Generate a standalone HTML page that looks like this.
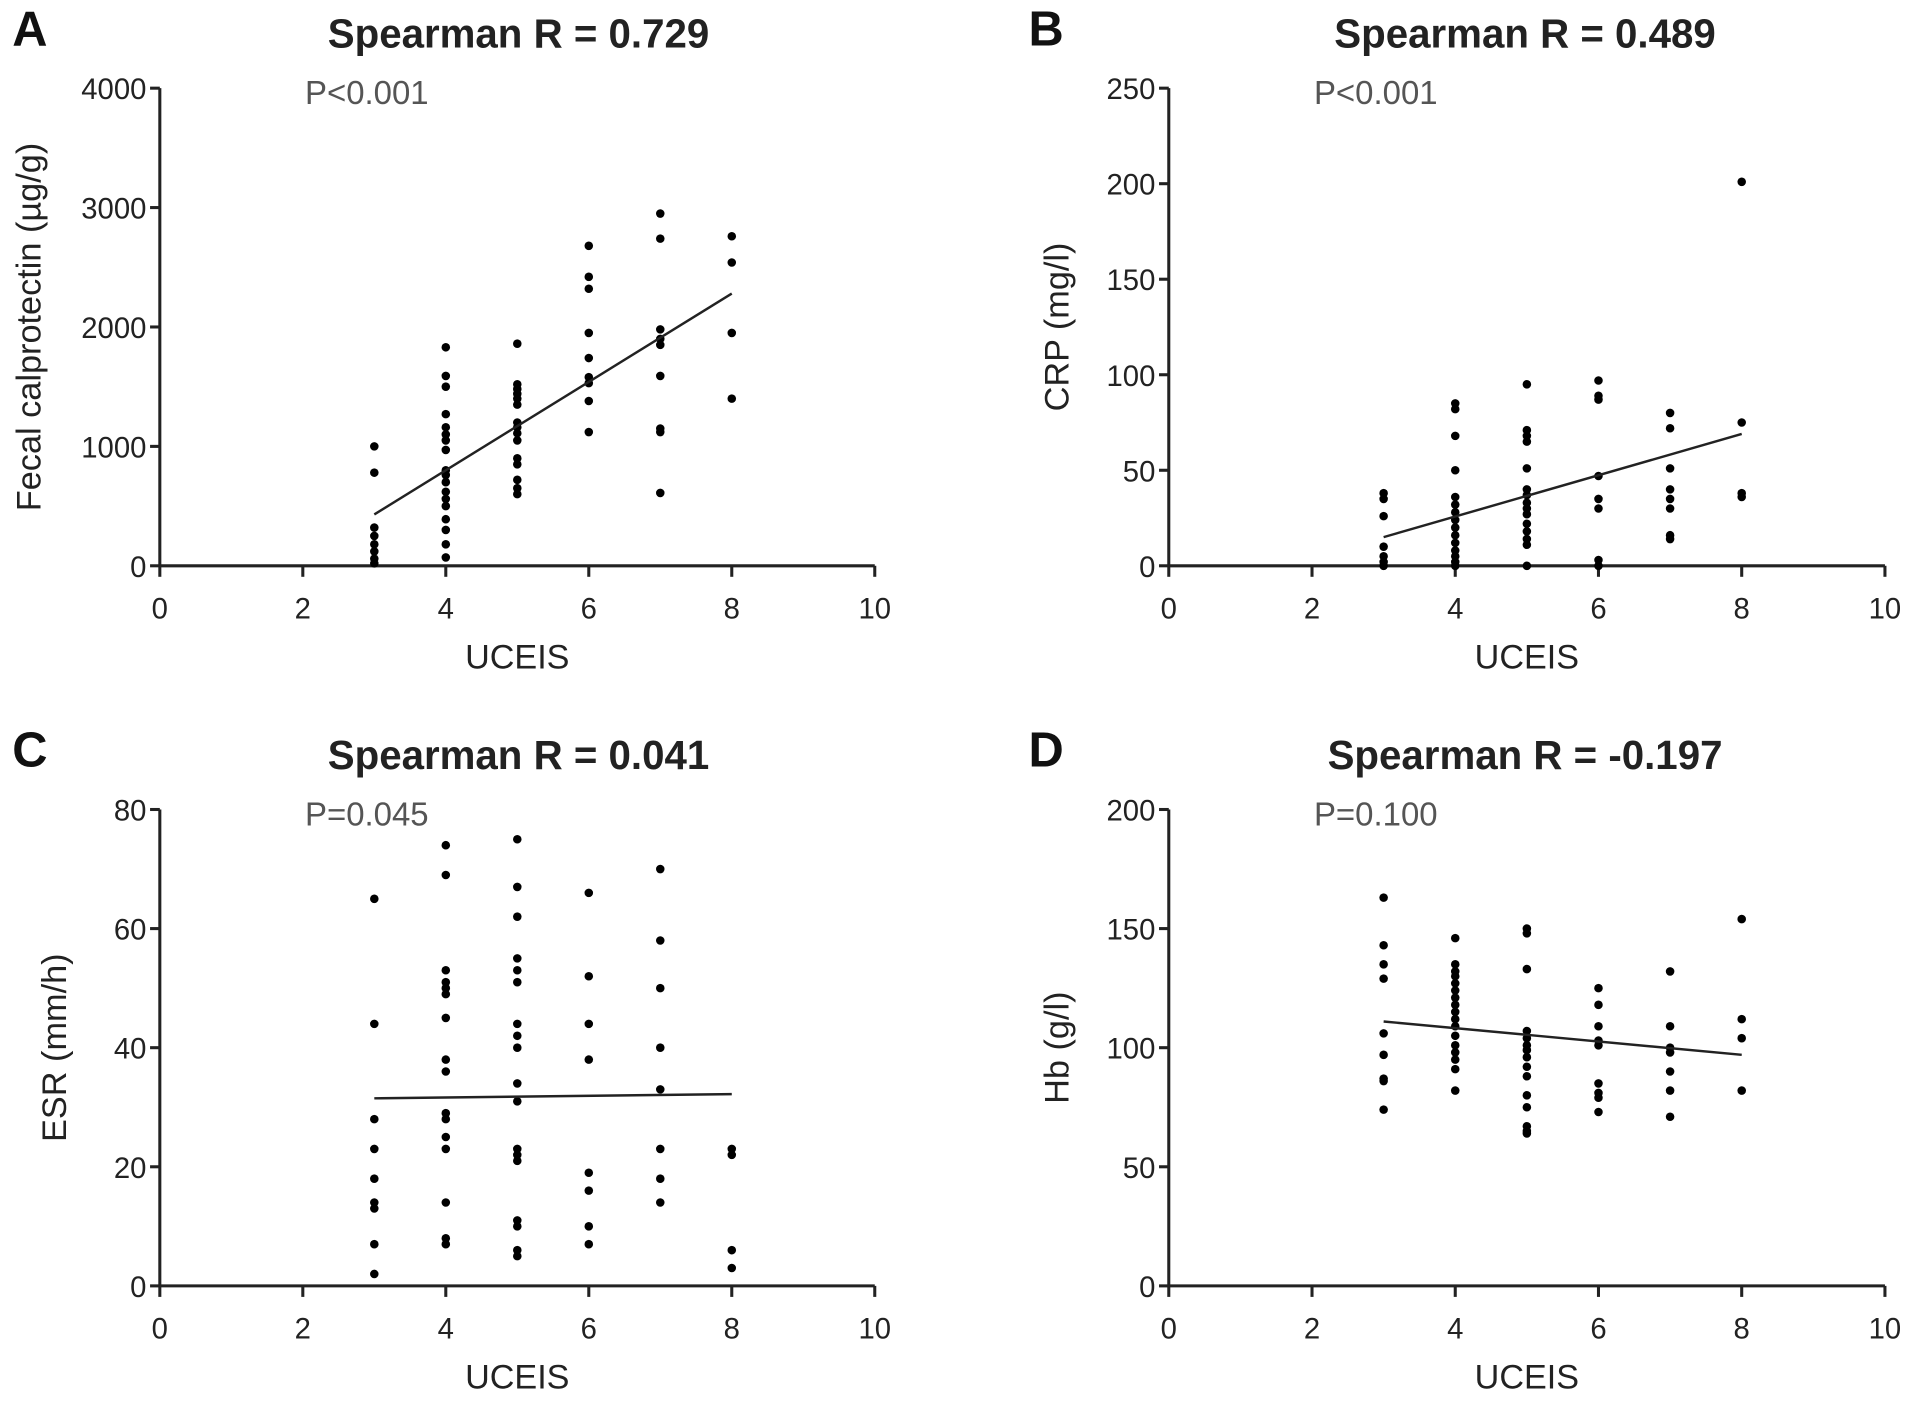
<!DOCTYPE html>
<html><head><meta charset="utf-8"><style>
html,body{margin:0;padding:0;background:#fff}
svg{display:block}
text{font-family:"Liberation Sans",Arial,sans-serif}
</style></head><body>
<svg id="fig" width="1913" height="1401" viewBox="0 0 1568 1144" preserveAspectRatio="none" xmlns="http://www.w3.org/2000/svg"></svg>
<script>
const xTicks=[0,2,4,6,8,10];
const aX=[3,4,5,6,7,8];
const aVals=[[1000,780,320,250,180,120,60,20],[1830,1590,1500,1270,1160,1100,1050,970,800,760,700,620,560,500,390,300,180,70],[1860,1520,1480,1440,1400,1350,1200,1160,1110,1050,900,850,720,650,600],[2680,2420,2320,1950,1740,1580,1530,1380,1120],[2950,2740,1980,1900,1850,1590,1150,1120,610],[2760,2540,1950,1400]];
const aFit=[430,2280];
const aTicks=[0,1000,2000,3000,4000];
const bVals=[[38,35,26,10,5,2,0],[85,82,68,50,36,32,28,24,20,16,12,8,5,2,0],[95,71,68,65,51,40,37,33,30,27,22,18,14,11,0],[97,89,87,47,35,30,3,0],[80,72,51,40,35,30,16,14],[201,75,38,36]];
const bFit=[15,69];
const bTicks=[0,50,100,150,200,250];
const cVals=[[65,44,28,23,18,14,13,7,2],[74,69,53,51,50,49,45,38,36,29,28,25,23,14,8,7],[75,67,62,55,53,51,44,42,40,34,31,23,22,21,11,10,6,5],[66,52,44,38,19,16,10,7],[70,58,50,40,33,23,18,14],[23,22,6,3]];
const cFit=[31.5,32.2];
const cTicks=[0,20,40,60,80];
const dVals=[[163,143,135,129,106,97,87,86,74],[146,135,132,130,127,124,121,118,115,112,109,105,101,98,95,91,82],[150,148,133,107,104,101,99,96,92,88,80,75,67,65,64],[125,118,109,103,101,85,81,79,73],[132,109,100,98,90,82,71],[154,112,104,82]];
const dFit=[111,97];
const dTicks=[0,50,100,150,200];

const NS="http://www.w3.org/2000/svg";
const svg=document.getElementById('fig');
function mk(tag,attrs,parent){const e=document.createElementNS(NS,tag);for(const k in attrs)e.setAttribute(k,attrs[k]);(parent||svg).appendChild(e);return e;}
function txt(s,attrs,parent){const e=mk('text',attrs,parent);e.textContent=s;return e;}

function panel(o){
  const g=mk('g',{});
  
  
  const ymax=o.yTicks[o.yTicks.length-1];
  const sx=v=>o.x0+(v-0)/10*(o.x1-o.x0);
  const sy=v=>o.y0-v/ymax*(o.y0-o.y1);
  const L=txt(o.letter,{x:o.lx,y:o.y1-35,'font-size':40,'font-weight':'bold',fill:'#111'},g);
  
  
  const T=txt(o.title,{x:o.tx,y:o.y1-33,'font-size':33,'font-weight':'bold','text-anchor':'middle',fill:'#222'},g);
  
  
  const P=txt(o.p,{x:o.x0+119,y:o.y1+13,'font-size':27,fill:'#555'},g);
  
  
  const ya=mk('line',{x1:o.x0,y1:o.y1,x2:o.x0,y2:o.y0+1,stroke:'#222','stroke-width':2.5},g);
  
  
  const xa=mk('line',{x1:o.x0-1,y1:o.y0,x2:o.x1,y2:o.y0,stroke:'#222','stroke-width':2.5},g);
  
  
  o.yTicks.forEach(v=>{
    mk('line',{x1:o.x0-8,y1:sy(v),x2:o.x0,y2:sy(v),stroke:'#222','stroke-width':2.5},g);
    const t=txt(String(v),{x:o.x0-11,y:sy(v)+9,'font-size':24,'text-anchor':'end',fill:'#222'},g);
    
    
  });
  xTicks.forEach(v=>{
    mk('line',{x1:sx(v),y1:o.y0,x2:sx(v),y2:o.y0+9,stroke:'#222','stroke-width':2.5},g);
    const t=txt(String(v),{x:sx(v),y:o.y0+43,'font-size':24,'text-anchor':'middle',fill:'#222'},g);
    
    
  });
  const xt=txt('UCEIS',{x:(o.x0+o.x1)/2,y:o.y0+84,'font-size':28,'text-anchor':'middle',fill:'#222'},g);
  
  
  const yc=(o.y0+o.y1)/2+o.ylOff;
  const yt=txt(o.ylabel,{x:0,y:0,'font-size':28,'text-anchor':'middle',fill:'#222',transform:`translate(${o.ylx},${yc}) rotate(-90)`},g);
  
  
  o.vals.forEach((arr,i)=>arr.forEach(v=>{
    const c=mk('circle',{cx:sx(aX[i]),cy:sy(v),r:3.5,fill:'#000'},g);
    
    
  }));
  const fl=mk('line',{x1:sx(aX[0]),y1:sy(o.fit[0]),x2:sx(aX[aX.length-1]),y2:sy(o.fit[1]),stroke:'#222','stroke-width':2},g);
  
  
}
panel({id:'a',letter:'A',lx:10,tx:425,title:'Spearman R = 0.729',p:'P<0.001',x0:131,x1:717,y0:462,y1:72,yTicks:aTicks,vals:aVals,fit:aFit,ylabel:'Fecal calprotectin (µg/g)',ylx:33,ylOff:0});
panel({id:'b',letter:'B',lx:843,tx:1250,title:'Spearman R = 0.489',p:'P<0.001',x0:958,x1:1545,y0:462,y1:72,yTicks:bTicks,vals:bVals,fit:bFit,ylabel:'CRP (mg/l)',ylx:876,ylOff:0});
panel({id:'c',letter:'C',lx:10,tx:425,title:'Spearman R = 0.041',p:'P=0.045',x0:131,x1:717,y0:1050,y1:661,yTicks:cTicks,vals:cVals,fit:cFit,ylabel:'ESR (mm/h)',ylx:54,ylOff:0});
panel({id:'d',letter:'D',lx:843,tx:1250,title:'Spearman R = -0.197',p:'P=0.100',x0:958,x1:1545,y0:1050,y1:661,yTicks:dTicks,vals:dVals,fit:dFit,ylabel:'Hb (g/l)',ylx:876,ylOff:0});
</script>
</body></html>
